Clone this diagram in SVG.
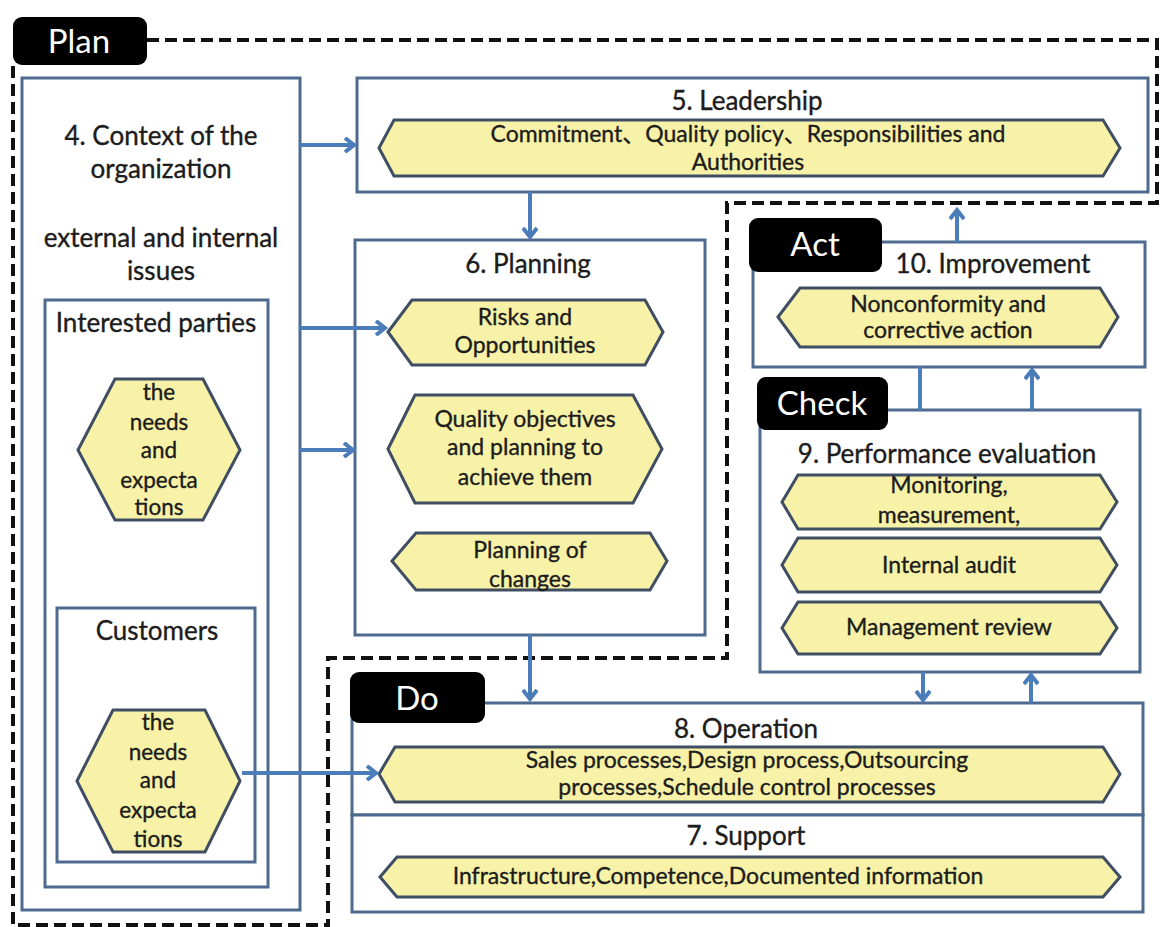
<svg xmlns="http://www.w3.org/2000/svg" width="1163" height="927" viewBox="0 0 1163 927">
<defs>
<style>
.bg{fill:#ffffff}
.box{fill:#ffffff;stroke:#4f6a8f;stroke-width:3}
.hex{fill:#f7f2a8;stroke:#3f4e62;stroke-width:3;stroke-linejoin:miter}
.dash{fill:none;stroke:#111;stroke-width:4;stroke-dasharray:12 6}
.tag{fill:#000}
.tagt{font-family:Lato,"Liberation Sans",sans-serif;font-size:33px;fill:#fff;text-anchor:middle}
.t{font-family:Lato,"Liberation Sans","Noto Sans CJK SC",sans-serif;font-size:26px;fill:#1c1c1c;stroke:#1c1c1c;stroke-width:0.35;text-anchor:middle}
.s{font-family:Lato,"Liberation Sans","Noto Sans CJK SC",sans-serif;font-size:23px;fill:#1c1c1c;stroke:#1c1c1c;stroke-width:0.35;text-anchor:middle}
.h{font-family:Lato,"Liberation Sans",sans-serif;font-size:22.5px;fill:#1c1c1c;stroke:#1c1c1c;stroke-width:0.35;text-anchor:middle}
.arr{fill:none;stroke:#4a7dba;stroke-width:4}
.ln{fill:none;stroke:#4a7dba;stroke-width:4}
</style>
<marker id="ah" markerWidth="14" markerHeight="16" refX="11" refY="8" orient="auto" markerUnits="userSpaceOnUse">
<path d="M2,1 L11,8 L2,15" fill="none" stroke="#4a7dba" stroke-width="4"/>
</marker>
</defs>
<rect class="bg" x="0" y="0" width="1163" height="927"/>

<g id="plan-boundary">
<path class="dash" d="M147,40 H1157 V203 H727 V658 H328 V927"/>
<path class="dash" d="M13,66 V925 H328"/>
</g>

<g id="context">
<rect class="box" x="22" y="78" width="278" height="832"/>
<text class="t" x="161" y="145">4. Context of the</text>
<text class="t" x="161" y="178">organization</text>
<text class="t" x="161" y="247">external and internal</text>
<text class="t" x="161" y="280">issues</text>
</g>

<g id="interested-parties">
<rect class="box" x="45" y="300" width="223" height="587"/>
<text class="t" x="156" y="332">Interested parties</text>
</g>

<g id="ip-needs">
<polygon class="hex" points="78,450 115,379 203,379 240,450 203,520 115,520"/>
<text class="h" x="159" y="400">the</text>
<text class="h" x="159" y="430">needs</text>
<text class="h" x="159" y="458">and</text>
<text class="h" x="159" y="488">expecta</text>
<text class="h" x="159" y="515">tions</text>
</g>

<g id="customers">
<rect class="box" x="57" y="608" width="198" height="254"/>
<text class="t" x="157" y="640">Customers</text>
</g>

<g id="cust-needs">
<polygon class="hex" points="77,781 113,710 205,710 240,781 205,852 113,852"/>
<text class="h" x="158" y="730">the</text>
<text class="h" x="158" y="760">needs</text>
<text class="h" x="158" y="788">and</text>
<text class="h" x="158" y="818">expecta</text>
<text class="h" x="158" y="847">tions</text>
</g>

<g id="leadership">
<rect class="box" x="357" y="78" width="791" height="114"/>
<text class="t" x="747" y="110">5. Leadership</text>
<polygon class="hex" points="379,148 394,120 1103,120 1120,148 1103,176 394,176"/>
<text class="s" x="748" y="142">Commitment、Quality policy、Responsibilities and</text>
<text class="s" x="748" y="170">Authorities</text>
</g>

<g id="planning">
<rect class="box" x="355" y="240" width="350" height="395"/>
<text class="t" x="528" y="273">6. Planning</text>
</g>
<g id="risks">
<polygon class="hex" points="388,332 412,300 645,300 663,332 645,365 412,365"/>
<text class="s" x="525" y="325">Risks and</text>
<text class="s" x="525" y="353">Opportunities</text>
</g>
<g id="objectives">
<polygon class="hex" points="388,449 415,395 633,395 662,449 633,503 415,503"/>
<text class="s" x="525" y="427">Quality objectives</text>
<text class="s" x="525" y="455">and planning to</text>
<text class="s" x="525" y="485">achieve them</text>
</g>
<g id="changes">
<polygon class="hex" points="392,561 416,533 650,533 667,561 650,590 416,590"/>
<text class="s" x="530" y="558">Planning of</text>
<text class="s" x="530" y="587">changes</text>
</g>

<g id="improvement">
<rect class="box" x="753" y="242" width="392" height="125"/>
<text class="t" x="993" y="273">10. Improvement</text>
<polygon class="hex" points="778,317 800,288 1100,288 1118,317 1100,347 800,347"/>
<text class="s" x="948" y="312">Nonconformity and</text>
<text class="s" x="948" y="338">corrective action</text>
</g>
<g id="act-tag">
<rect class="tag" x="749" y="218" width="133" height="54" rx="9"/>
<text class="tagt" x="815" y="256">Act</text>
</g>

<g id="performance">
<rect class="box" x="760" y="410" width="380" height="262"/>
<text class="t" x="947" y="463">9. Performance evaluation</text>
</g>
<g id="monitoring">
<polygon class="hex" points="782,502 798,475 1100,475 1117,502 1100,529 798,529"/>
<text class="s" x="949" y="493">Monitoring,</text>
<text class="s" x="949" y="523">measurement,</text>
</g>
<g id="audit">
<polygon class="hex" points="782,565 798,538 1100,538 1117,565 1100,592 798,592"/>
<text class="s" x="949" y="573">Internal audit</text>
</g>
<g id="review">
<polygon class="hex" points="782,628 798,602 1100,602 1117,628 1100,654 798,654"/>
<text class="s" x="949" y="635">Management review</text>
</g>
<g id="check-tag">
<rect class="tag" x="757" y="377" width="131" height="53" rx="9"/>
<text class="tagt" x="822" y="415">Check</text>
</g>

<g id="operation">
<rect class="box" x="352" y="703" width="791" height="112"/>
<text class="t" x="746" y="738">8. Operation</text>
<polygon class="hex" points="379,774 395,747 1103,747 1120,774 1103,802 395,802"/>
<text class="s" x="747" y="768">Sales processes,Design process,Outsourcing</text>
<text class="s" x="747" y="795">processes,Schedule control processes</text>
</g>
<g id="support">
<rect class="box" x="352" y="815" width="791" height="97"/>
<text class="t" x="746" y="845">7. Support</text>
<polygon class="hex" points="380,877 397,857 1103,857 1120,877 1103,897 397,897"/>
<text class="s" x="718" y="884">Infrastructure,Competence,Documented information</text>
</g>
<g id="do-tag">
<rect class="tag" x="350" y="672" width="135" height="51" rx="9"/>
<text class="tagt" x="417" y="710">Do</text>
</g>

<g id="plan-tag">
<rect class="tag" x="13" y="17" width="134" height="48" rx="9"/>
<text class="tagt" x="79" y="53">Plan</text>
</g>

<g id="connectors">
<path class="arr" marker-end="url(#ah)" d="M300,145 H354"/>
<path class="arr" marker-end="url(#ah)" d="M300,328 H385"/>
<path class="arr" marker-end="url(#ah)" d="M300,450 H353"/>
<path class="arr" marker-end="url(#ah)" d="M530,192 V237"/>
<path class="arr" marker-end="url(#ah)" d="M530,635 V699"/>
<path class="arr" marker-end="url(#ah)" d="M242,773 H376"/>
<path class="arr" marker-end="url(#ah)" d="M957,242 V210"/>
<path class="ln" d="M920,367 V410"/>
<path class="arr" marker-end="url(#ah)" d="M1032,410 V370"/>
<path class="arr" marker-end="url(#ah)" d="M923,672 V700"/>
<path class="arr" marker-end="url(#ah)" d="M1031,703 V675"/>
</g>
</svg>
